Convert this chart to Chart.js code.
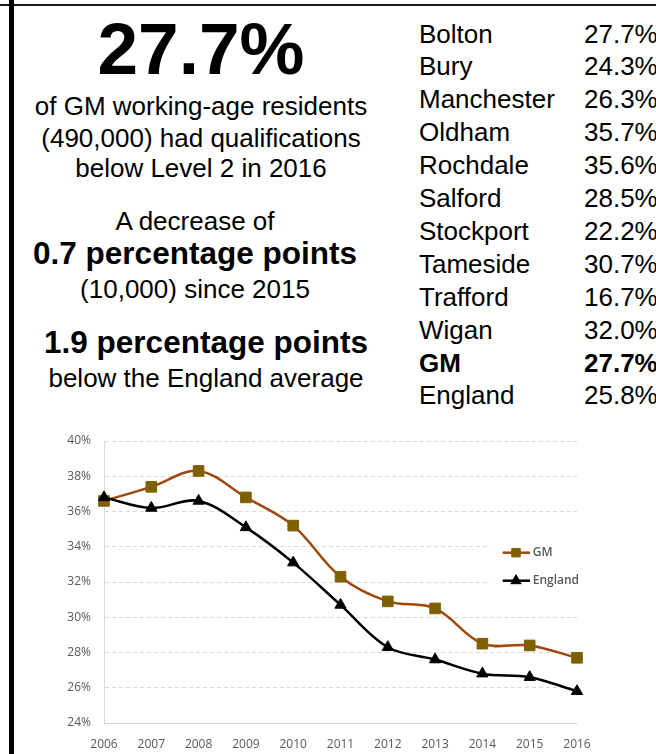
<!DOCTYPE html>
<html>
<head>
<meta charset="utf-8">
<script src="https://cdn.jsdelivr.net/npm/chart.js@4.4.1/dist/chart.umd.min.js"></script>
<style>
html,body{margin:0;padding:0;background:#fff;}
body{width:656px;height:754px;position:relative;overflow:hidden;font-family:"Liberation Sans",Arial,sans-serif;color:#000;}
.hline{position:absolute;left:0;top:4px;width:656px;height:2px;background:#1a1a1a;}
.vline{position:absolute;left:9px;top:0;width:5px;height:754px;background:#000;}
.t{position:absolute;white-space:nowrap;line-height:1;text-align:center;}
.r{font-size:26px;}
.b{font-weight:bold;font-size:31.5px;}
.cell{position:absolute;white-space:nowrap;line-height:1;font-size:26px;}
#chartBox{position:absolute;left:40px;top:425px;width:616px;height:329px;}
</style>
</head>
<body>
<div class="hline"></div>
<div class="vline"></div>

<div class="t" style="left:21px;width:360px;top:11.5px;font-size:73px;font-weight:bold;">27.7%</div>
<div class="t r" style="left:21px;width:360px;top:93px;">of GM working-age residents</div>
<div class="t r" style="left:21px;width:360px;top:124.5px;">(490,000) had qualifications</div>
<div class="t r" style="left:21px;width:360px;top:154.7px;">below Level 2 in 2016</div>

<div class="t r" style="left:15px;width:360px;top:208px;">A decrease of</div>
<div class="t b" style="left:15px;width:360px;top:238.4px;">0.7 percentage points</div>
<div class="t r" style="left:15px;width:360px;top:276.3px;">(10,000) since 2015</div>

<div class="t b" style="left:26px;width:360px;top:326.7px;">1.9 percentage points</div>
<div class="t r" style="left:26px;width:360px;top:364.7px;">below the England average</div>

<div id="table"></div>

<div id="chartBox"><canvas id="c" width="616" height="329"></canvas></div>

<script>
// ---- data ----
const districts = ['Bolton','Bury','Manchester','Oldham','Rochdale','Salford','Stockport','Tameside','Trafford','Wigan','GM','England'];
const districtRates = [27.7, 24.3, 26.3, 35.7, 35.6, 28.5, 22.2, 30.7, 16.7, 32.0, 27.7, 25.8];
const boldRows = ['GM'];

const years = ['2006','2007','2008','2009','2010','2011','2012','2013','2014','2015','2016'];
const gmRates = [36.6, 37.4, 38.3, 36.8, 35.2, 32.3, 30.9, 30.5, 28.5, 28.4, 27.7];
const englandRates = [36.8, 36.2, 36.6, 35.1, 33.1, 30.7, 28.3, 27.6, 26.8, 26.6, 25.8];
const yMin = 24, yMax = 40, yStep = 2;

// ---- table ----
const table = document.getElementById('table');
districts.forEach((name, i) => {
  const top = 42.5 + 32.9 * i - 22.0;
  const bold = boldRows.includes(name) ? 'font-weight:bold;' : '';
  const a = document.createElement('div');
  a.className = 'cell'; a.style.cssText = 'left:419px;top:' + top + 'px;' + bold;
  a.textContent = name;
  const b = document.createElement('div');
  b.className = 'cell'; b.style.cssText = 'left:584px;top:' + top + 'px;' + bold;
  b.textContent = districtRates[i].toFixed(1) + '%';
  table.appendChild(a); table.appendChild(b);
});

// ---- chart ----
const tickFont = {family: '"Open Sans", sans-serif', size: 12};
const tickColor = '#595959';

const insideLegend = {
  id: 'insideLegend',
  beforeDatasetsDraw(chart) {
    const ctx = chart.ctx, a = chart.chartArea;
    ctx.save();
    ctx.fillStyle = '#fff';
    ctx.fillRect(a.right - 86, a.top + 89, 90, 68);
    ctx.restore();
  },
  afterDatasetsDraw(chart) {
    const ctx = chart.ctx, a = chart.chartArea;
    const rows = [a.top + 111.7, a.top + 139.7];
    const legendRadius = [6, 6];
    chart.data.datasets.forEach((ds, i) => {
      const y = rows[i];
      ctx.save();
      ctx.strokeStyle = ds.borderColor;
      ctx.lineWidth = ds.borderWidth;
      ctx.beginPath();
      ctx.moveTo(a.right - 74.3, y);
      ctx.lineTo(a.right - 47, y);
      ctx.stroke();
      ctx.fillStyle = ds.pointBackgroundColor;
      ctx.strokeStyle = ds.pointBorderColor;
      ctx.lineWidth = 1;
      Chart.helpers.drawPoint(ctx, {pointStyle: ds.pointStyle, radius: legendRadius[i], rotation: 0, borderWidth: 1}, a.right - 61, y);
      ctx.fillStyle = '#595959';
      ctx.font = '600 12px "Open Sans", sans-serif';
      ctx.textBaseline = 'middle';
      ctx.textAlign = 'left';
      ctx.fillText(ds.label, a.right - 44.3, y);
      ctx.restore();
    });
  }
};

new Chart(document.getElementById('c'), {
  type: 'line',
  data: {
    labels: years,
    datasets: [
      {
        label: 'GM', data: gmRates, order: 1,
        borderColor: '#9E480E', borderWidth: 2.5, tension: 0.35,
        pointStyle: 'rect', pointRadius: 7.5, pointHoverRadius: 7.5,
        pointBackgroundColor: '#7F6000', pointBorderColor: '#7F6000', pointBorderWidth: 1,
        clip: false
      },
      {
        label: 'England', data: englandRates, order: 0,
        borderColor: '#000000', borderWidth: 2.5, tension: 0.35,
        pointStyle: 'triangle', pointRadius: 6.5, pointHoverRadius: 6.5,
        pointBackgroundColor: '#000000', pointBorderColor: '#000000', pointBorderWidth: 1,
        clip: false
      }
    ]
  },
  options: {
    responsive: false,
    animation: false,
    devicePixelRatio: 1,
    layout: {padding: {top: 16, right: 79, left: 0, bottom: 0}},
    plugins: {legend: {display: false}, tooltip: {enabled: false}},
    scales: {
      x: {
        offset: false,
        grid: {display: false, drawTicks: false},
        border: {display: true, color: '#d9d9d9', width: 1},
        ticks: {font: tickFont, color: tickColor, padding: 14, maxRotation: 0, autoSkip: false},
        afterFit(s) { s.height = 31; s.paddingLeft = 0; s.paddingRight = 0; }
      },
      y: {
        min: yMin, max: yMax,
        grid: {color: '#d9d9d9', lineWidth: 1, drawTicks: false},
        border: {display: true, color: '#d9d9d9', width: 1, dash: [4, 3]},
        ticks: {stepSize: yStep, font: tickFont, color: tickColor, padding: 13, callback: v => v + '%'},
        afterFit(s) { s.width = 64; s.paddingTop = 0; s.paddingBottom = 0; }
      }
    }
  },
  plugins: [insideLegend]
});
</script>
</body>
</html>
